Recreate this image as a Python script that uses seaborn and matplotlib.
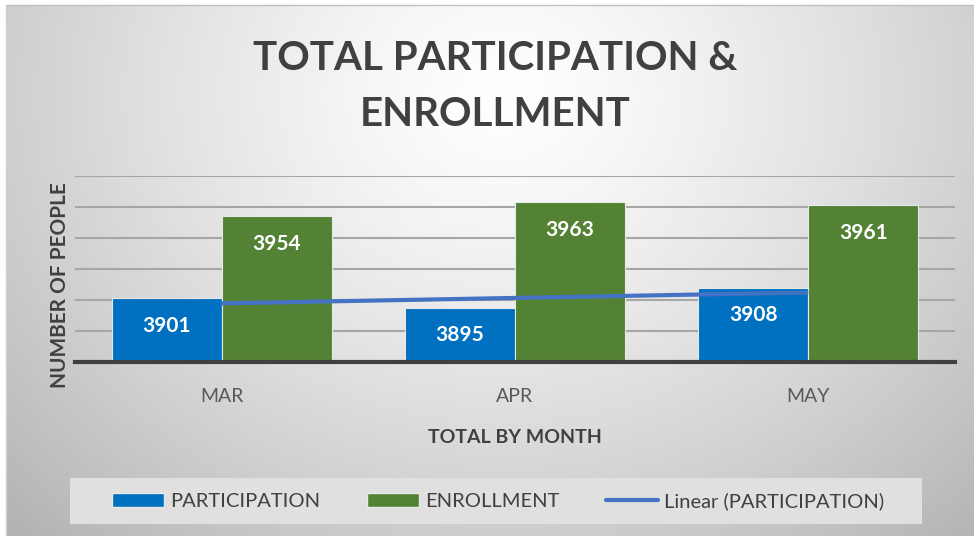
import numpy as np
import pandas as pd
import matplotlib
matplotlib.use("Agg")
import matplotlib.pyplot as plt
import seaborn as sns
from matplotlib.patches import Patch, Rectangle
from matplotlib.lines import Line2D

months = ["MAR", "APR", "MAY"]
participation = [3901, 3895, 3908]
enrollment = [3954, 3963, 3961]
series_names = ["PARTICIPATION", "ENROLLMENT"]
colors = ["#0070C0", "#548235"]
trend_color = "#4472C4"

df = pd.DataFrame({
    "month": months * 2,
    "value": participation + enrollment,
    "series": [series_names[0]] * 3 + [series_names[1]] * 3,
})

sns.set_theme(style="white")
plt.rcParams["font.family"] = ["Lato", "DejaVu Sans"]

W, H = 974, 536
fig = plt.figure(figsize=(W / 100, H / 100), dpi=100)
fig.patch.set_facecolor("white")

# background gradient
bg = fig.add_axes([6 / W, 0, 1 - 6 / W, 1 - 5 / H])
yy, xx = np.mgrid[0:H, 0:W]
cx, cy = 500, 90
d = np.sqrt(((xx - cx) / 600.0) ** 2 + ((yy - cy) / 520.0) ** 2)
v = 1.0 - 0.24 * np.clip(d, 0, 1.2) ** 1.3
img = np.dstack([v, v, v])
bg.imshow(img, aspect="auto", extent=[0, 1, 0, 1], origin="upper")
bg.set_axis_off()
fig.add_artist(Line2D([6 / W, 1], [1 - 5 / H, 1 - 5 / H], color="#bfbfbf", lw=1, transform=fig.transFigure))
fig.add_artist(Line2D([6 / W, 6 / W], [0, 1 - 5 / H], color="#d0d0d0", lw=1, transform=fig.transFigure))

# legend box
fig.add_artist(Rectangle((70 / W, 1 - 524 / H), (922 - 70) / W, (524 - 478) / H,
                         transform=fig.transFigure, facecolor="#e0e0e0",
                         edgecolor="none", zorder=1))

ax = fig.add_axes([75 / W, 1 - 362 / H, (955 - 75) / W, (362 - 176) / H])
ax.patch.set_alpha(0)
sns.barplot(data=df, x="month", y="value", hue="series", palette=colors,
            saturation=1, width=0.75, gap=0, ax=ax, legend=False,
            edgecolor="#e8e8e8", linewidth=0.8, zorder=3)
ax.set_ylim(3860, 3980)
ax.set_xlim(-0.5, 2.5)
ax.set_yticks(np.arange(3860, 3981, 20))
ax.set_yticklabels([])
ax.tick_params(axis="y", length=0)
ax.tick_params(axis="x", length=0, labelsize=14, labelcolor="#595959", pad=19)
ax.yaxis.grid(True, color="#a6a6a6", lw=1.5, zorder=0)
ax.set_axisbelow(True)
for s in ["top", "right", "left"]:
    ax.spines[s].set_visible(False)
ax.spines["bottom"].set_color("#404040")
ax.spines["bottom"].set_linewidth(3)
ax.spines["bottom"].set_zorder(5)

# data labels
for cont in ax.containers:
    ax.bar_label(cont, labels=[f"{int(b.get_height())}" for b in cont],
                 label_type="edge", padding=-27, color="white",
                 fontsize=15, fontweight="bold", zorder=6)

# linear trendline for participation
xs = np.arange(len(months))
coef = np.polyfit(xs, participation, 1)
ax.plot(xs, np.polyval(coef, xs), color=trend_color, lw=3, zorder=4,
        solid_capstyle="butt")

ax.set_xlabel("TOTAL BY MONTH", fontsize=14, fontweight="bold", color="#404040", labelpad=17)
ax.set_ylabel("NUMBER OF PEOPLE", fontsize=15, fontweight="bold", color="#404040")
ax.yaxis.set_label_coords((70 - 75) / 880, (362 - 285) / 186)

fig.text(495 / W, 1 - 58 / H, "TOTAL PARTICIPATION &", ha="center", va="center",
         fontsize=29, fontweight="bold", color="#404040")
fig.text(495 / W, 1 - 114 / H, "ENROLLMENT", ha="center", va="center",
         fontsize=29, fontweight="bold", color="#404040")

handles = [Patch(facecolor=colors[0], edgecolor="#e8e8e8"),
           Patch(facecolor=colors[1], edgecolor="#e8e8e8"),
           Line2D([0], [0], color=trend_color, lw=3)]
labels = ["PARTICIPATION", "ENROLLMENT", "Linear (PARTICIPATION)"]
leg = fig.legend(handles, labels, loc="center", bbox_to_anchor=(498 / W, 1 - 501 / H),
                 ncol=3, frameon=False, fontsize=14.5, handlelength=2.6, handleheight=0.7,
                 handletextpad=0.3, columnspacing=2.3, labelcolor="#404040")

fig.savefig("out.png", dpi=100)
